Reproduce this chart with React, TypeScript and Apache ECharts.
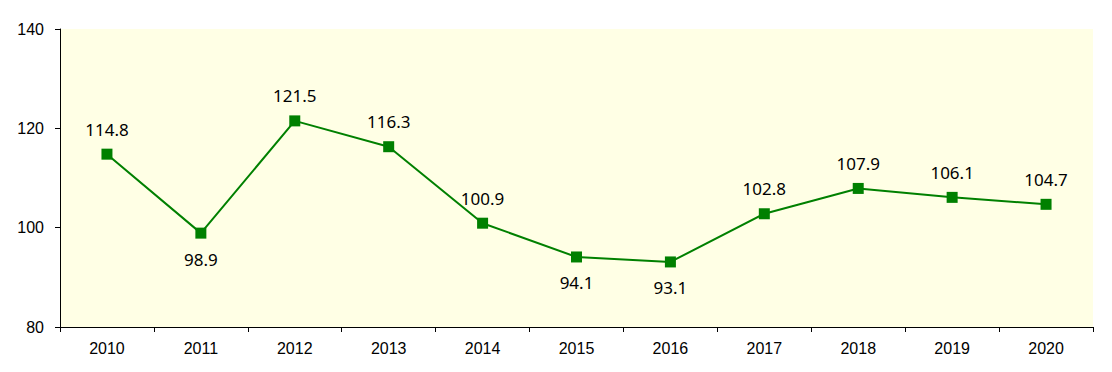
import React, { useEffect, useRef } from "react";
import * as echarts from "echarts";

const categories = ["2010", "2011", "2012", "2013", "2014", "2015", "2016", "2017", "2018", "2019", "2020"];
const values = [114.8, 98.9, 121.5, 116.3, 100.9, 94.1, 93.1, 102.8, 107.9, 106.1, 104.7];
const labelBelow = ["2011", "2015", "2016"];
const yMin = 80;
const yMax = 140;
const yStep = 20;

export default function App() {
  const ref = useRef<HTMLDivElement>(null);
  useEffect(() => {
    if (!ref.current) return;
    const chart = echarts.init(ref.current, undefined, { renderer: "svg" });
    chart.setOption({
      animation: false,
      backgroundColor: "#ffffff",
      grid: {
        left: 60,
        right: 19,
        top: 29,
        bottom: 45,
        show: true,
        backgroundColor: "#FFFFE5",
        borderWidth: 0,
      },
      xAxis: {
        type: "category",
        data: categories,
        boundaryGap: true,
        axisLine: { show: true, lineStyle: { color: "#000", width: 1 } },
        axisTick: { show: true, inside: false, length: 5, alignWithLabel: false, lineStyle: { color: "#000" } },
        axisLabel: { color: "#000", fontFamily: "Liberation Sans, Arial", fontSize: 16, margin: 13 },
        splitLine: { show: false },
      },
      yAxis: {
        type: "value",
        min: yMin,
        max: yMax,
        interval: yStep,
        axisLine: { show: true, lineStyle: { color: "#000", width: 1 } },
        axisTick: { show: true, inside: false, length: 5, lineStyle: { color: "#000" } },
        axisLabel: { color: "#000", fontFamily: "Liberation Sans, Arial", fontSize: 16, margin: 16 },
        splitLine: { show: false },
      },
      series: [
        {
          type: "line",
          data: values.map((v, i) => {
            const below = labelBelow.includes(categories[i]);
            return {
              value: v,
              label: { position: below ? "bottom" : "top", distance: below ? 12 : 11 },
            };
          }),
          symbol: "rect",
          symbolSize: 11,
          lineStyle: { color: "#008000", width: 2 },
          itemStyle: { color: "#008000" },
          label: {
            show: true,
            color: "#000",
            fontFamily: "Noto Sans",
            fontSize: 17,
            formatter: (p: any) => Number(p.value).toFixed(1),
          },
        },
      ],
    });
    return () => chart.dispose();
  }, []);
  return <div ref={ref} style={{ position: "fixed", left: 0, top: 0, width: 1112, height: 372 }} />;
}
